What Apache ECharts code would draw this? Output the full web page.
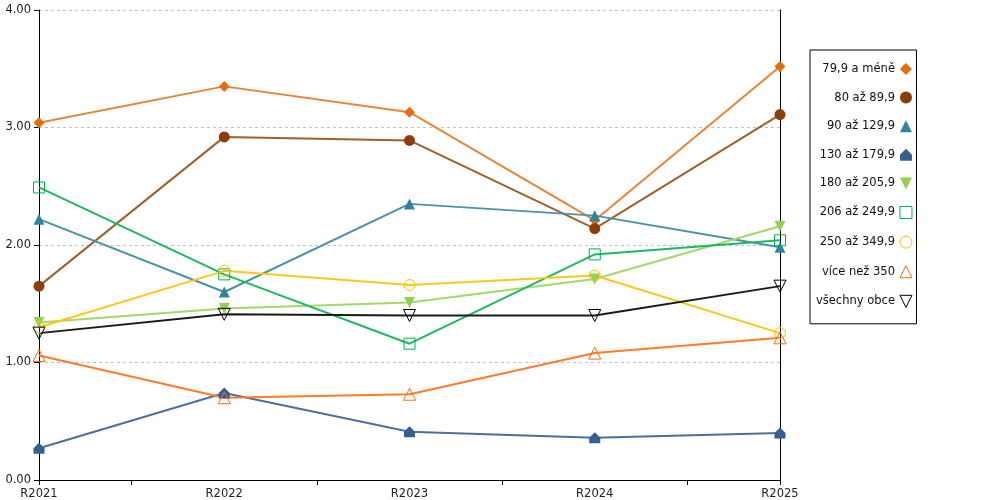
<!DOCTYPE html>
<html><head><meta charset="utf-8">
<script src="https://cdn.jsdelivr.net/npm/echarts@6/dist/echarts.min.js"></script>
<style>html,body{margin:0;padding:0;background:#fff}#c{width:1000px;height:500px}</style>
</head><body><div id="c"></div>
<script>
const categories = ['R2021','R2022','R2023','R2024','R2025'];
const yTicks = [0,1,2,3,4];
const names = ['79,9 a méně','80 až 89,9','90 až 129,9','130 až 179,9','180 až 205,9','206 až 249,9','250 až 349,9','více než 350','všechny obce'];
const s79 = [3.04,3.35,3.13,2.21,3.52];
const s80 = [1.65,2.92,2.89,2.14,3.11];
const s90 = [2.22,1.60,2.35,2.25,1.98];
const s130 = [0.27,0.74,0.41,0.36,0.40];
const s180 = [1.34,1.46,1.51,1.71,2.16];
const s206 = [2.49,1.75,1.16,1.92,2.04];
const s250 = [1.30,1.78,1.66,1.74,1.25];
const s350 = [1.06,0.70,0.73,1.08,1.21];
const sAll = [1.25,1.41,1.40,1.40,1.65];
const values = [s79,s80,s90,s130,s180,s206,s250,s350,sAll];

const styles = [
  {mk:'#E46C0A', ln:'#E8843A', sym:'diamond', size:11, fill:true},
  {mk:'#8B3E0A', ln:'#A0602A', sym:'circle', size:11, fill:true},
  {mk:'#31849B', ln:'#4A92A6', sym:'triangle', size:11, fill:true},
  {mk:'#365F91', ln:'#4D6F9C', sym:'path://M0,5 L5,0 L10,5 L10,10 L0,10 Z', size:11, fill:true},
  {mk:'#92D050', ln:'#A3D86A', sym:'path://M0,0 L10,0 L5,10 Z', size:11, fill:true},
  {mk:'#00B050', ln:'#1DB862', sym:'rect', size:11, fill:false},
  {mk:'#FFC000', ln:'#FFC61A', sym:'circle', size:11, fill:false},
  {mk:'#FF6A13', ln:'#FF7A2A', sym:'triangle', size:12, fill:false},
  {mk:'#000000', ln:'#1a1a1a', sym:'path://M0,0 L10,0 L5,10 Z', size:12, fill:false}
];
const itemStyleOf = st => st.fill ? {color:st.mk, borderWidth:0} : {color:'rgba(255,255,255,0)', borderColor:st.mk, borderWidth:1};

const series = names.map((n,i)=>{
  const st = styles[i];
  return {
    name:n, type:'line', symbol:st.sym, symbolSize:st.size,
    data: values[i].map((v,j)=>[j,v]),
    lineStyle:{color:st.ln, width:2},
    itemStyle: itemStyleOf(st),
    emphasis:{disabled:true},
    animation:false
  };
});

const chart = echarts.init(document.getElementById('c'));
chart.setOption({
  animation:false,
  textStyle:{fontFamily:'DejaVu Sans'},
  grid:{left:39, right:220, top:10, bottom:20},
  xAxis:{
    type:'value', min:0, max:categories.length-1,
    axisLine:{lineStyle:{color:'#000', width:1}},
    axisTick:{show:true, customValues:[0,0.5,1.5,2.5,3.5,4], length:5, lineStyle:{color:'#000'}},
    axisLabel:{customValues:[0,1,2,3,4], formatter:v=>categories[Math.round(v)], color:'#222', fontSize:11.5, margin:8},
    splitLine:{show:false}
  },
  yAxis:[{
    type:'value', min:yTicks[0], max:yTicks[yTicks.length-1], interval:1,
    axisLine:{show:true, lineStyle:{color:'#000', width:1}},
    axisTick:{show:true, length:5, lineStyle:{color:'#000'}},
    axisLabel:{formatter:v=>v.toFixed(2), color:'#222', fontSize:11.5, margin:8},
    splitLine:{show:true, lineStyle:{color:'#c0c0c0', type:[3,3], width:1}}
  },{
    type:'value', min:0, max:4, interval:1, position:'right',
    axisLine:{show:true, lineStyle:{color:'#000', width:1}},
    axisTick:{show:false}, axisLabel:{show:false}, splitLine:{show:false}
  }],
  legend:{
    orient:'vertical', left:810, top:50, align:'right',
    itemWidth:12, itemHeight:12, itemGap:16.6,
    padding:[13,4,16,6],
    borderColor:'#000', borderWidth:1,
    textStyle:{color:'#111', fontSize:11.5, fontFamily:'DejaVu Sans'},
    data:names.map((n,i)=>({name:n, icon:styles[i].sym, itemStyle:itemStyleOf(styles[i])}))
  },
  series:series
});
</script></body></html>
